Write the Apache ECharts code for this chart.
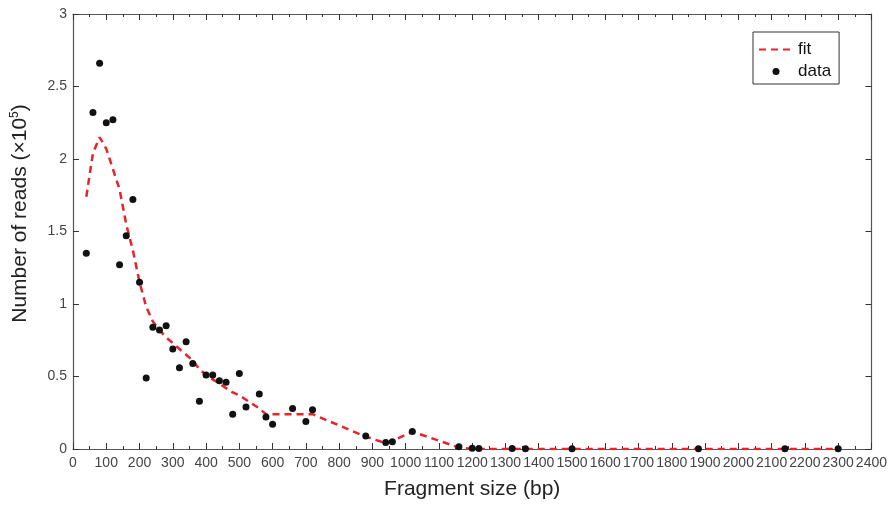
<!DOCTYPE html>
<html>
<head>
<meta charset="utf-8">
<script src="https://cdn.jsdelivr.net/npm/echarts@6/dist/echarts.min.js"></script>
<style>
  html, body { margin: 0; padding: 0; background: #fff; }
  #chart { width: 890px; height: 505px; }
</style>
</head>
<body>
<div id="chart"></div>
<script>
// measured points (fragment size in bp, reads in 1e5)
var dataSizes = [40, 60, 80, 100, 120, 140, 160, 180, 200, 220, 240, 260, 280, 300, 320, 340, 360, 380,
  400, 420, 440, 460, 480, 500, 520, 560, 580, 600, 660, 700, 720, 880, 940, 960, 1020, 1160, 1200, 1220,
  1320, 1360, 1500, 1880, 2140, 2300];
var dataReads = [1.35, 2.32, 2.66, 2.25, 2.27, 1.27, 1.47, 1.72, 1.15, 0.49, 0.84, 0.82, 0.85, 0.69, 0.56, 0.74, 0.59, 0.33,
  0.51, 0.51, 0.47, 0.46, 0.24, 0.52, 0.29, 0.38, 0.22, 0.17, 0.28, 0.19, 0.27, 0.09, 0.045, 0.05, 0.12, 0.015, 0.005, 0.003,
  0.003, 0.002, 0.002, 0.002, 0.002, 0.002];

// fitted curve
var fitSizes = [40, 60, 80, 100, 120, 140, 160, 180, 200, 220, 240, 260, 280, 300, 320, 340, 360, 380,
  400, 420, 440, 460, 480, 500, 520, 560, 580, 600, 660, 700, 720, 880, 940, 960, 1020, 1160, 1200, 1220,
  1320, 1360, 1500, 1880, 2140, 2300];
var fitReads = [1.74, 2.04, 2.15, 2.07, 1.93, 1.79, 1.55, 1.37, 1.15, 0.98, 0.88, 0.82, 0.77, 0.73, 0.69, 0.65, 0.61, 0.55,
  0.51, 0.48, 0.45, 0.42, 0.39, 0.37, 0.34, 0.28, 0.24, 0.24, 0.24, 0.24, 0.24, 0.085, 0.04, 0.055, 0.12, 0.01, 0, 0,
  0, 0, 0, 0, 0, 0];

var legendNames = ['fit', 'data'];
var font = 'Liberation Sans, Arial, sans-serif';

function pairs(xs, ys) {
  var out = [];
  for (var i = 0; i < xs.length; i++) out.push([xs[i], ys[i]]);
  return out;
}

var axisCol = '#555';
var myChart = echarts.init(document.getElementById('chart'));
var option = {
  animation: false,
  textStyle: { fontFamily: font },
  grid: { left: 73, right: 16, top: 14, bottom: 56 },
  legend: {
    left: 753,
    top: 32,
    orient: 'vertical',
    padding: [9, 8, 4, 5],
    itemGap: 5,
    itemWidth: 34,
    itemHeight: 7,
    borderColor: '#333',
    borderWidth: 1,
    textStyle: { fontSize: 17, lineHeight: 17, color: '#111', fontFamily: font },
    data: [
      { name: legendNames[0], itemStyle: { opacity: 0 } },
      { name: legendNames[1], icon: 'circle' }
    ]
  },
  xAxis: [{
    type: 'value',
    min: 0, max: 2400, interval: 100,
    name: 'Fragment size (bp)',
    nameLocation: 'middle',
    nameGap: 30,
    nameTextStyle: { fontSize: 21, color: '#222', fontFamily: font },
    axisLine: { onZero: false, lineStyle: { color: axisCol, width: 1.2 } },
    axisTick: { inside: true, length: 6, lineStyle: { color: '#333' } },
    minorTick: { show: true, splitNumber: 2, length: 3, lineStyle: { color: '#333' } },
    axisLabel: {
      fontSize: 14, color: '#444', margin: 7, fontFamily: font,
      showMaxLabel: true, showMinLabel: true, hideOverlap: false,
      formatter: function (v) { return String(v); }
    },
    splitLine: { show: false }
  }, {
    type: 'value',
    position: 'top',
    min: 0, max: 2400, interval: 100,
    axisLine: { show: true, onZero: false, lineStyle: { color: axisCol, width: 1.2 } },
    axisTick: { show: true, inside: true, length: 6, lineStyle: { color: '#333' } },
    minorTick: { show: true, splitNumber: 2, length: 3, lineStyle: { color: '#333' } },
    axisLabel: { show: false },
    splitLine: { show: false }
  }],
  yAxis: [{
    type: 'value',
    min: 0, max: 3, interval: 0.5,
    name: 'Number of reads (\u00d710{sup|5})',
    nameLocation: 'middle',
    nameGap: 42,
    nameTextStyle: {
      fontSize: 21, color: '#222', fontFamily: font,
      padding: [0, 0, 0, 36],
      rich: { sup: { fontSize: 12, verticalAlign: 'top', padding: [0, 0, 10, 0], color: '#222' } }
    },
    axisLine: { show: true, onZero: false, lineStyle: { color: axisCol, width: 1.2 } },
    axisTick: { show: true, inside: true, length: 6, lineStyle: { color: '#333' } },
    axisLabel: { fontSize: 14, color: '#444', margin: 6, fontFamily: font },
    splitLine: { show: false }
  }, {
    type: 'value',
    position: 'right',
    min: 0, max: 3, interval: 0.5,
    axisLine: { show: true, onZero: false, lineStyle: { color: axisCol, width: 1.2 } },
    axisTick: { show: true, inside: true, length: 6, lineStyle: { color: '#333' } },
    axisLabel: { show: false },
    splitLine: { show: false }
  }],
  series: []
};
option.series[0] = {
  name: legendNames[0],
  type: 'line',
  data: pairs(fitSizes, fitReads),
  showSymbol: false,
  symbol: 'none',
  lineStyle: { color: '#e8232b', width: 2.5, type: [7, 5] },
  itemStyle: { color: '#e8232b' },
  z: 2
};
option.series[1] = {
  name: legendNames[1],
  type: 'scatter',
  data: pairs(dataSizes, dataReads),
  symbol: 'circle',
  symbolSize: 7,
  itemStyle: { color: '#111', opacity: 1 },
  z: 3
};
myChart.setOption(option);
</script>
</body>
</html>
